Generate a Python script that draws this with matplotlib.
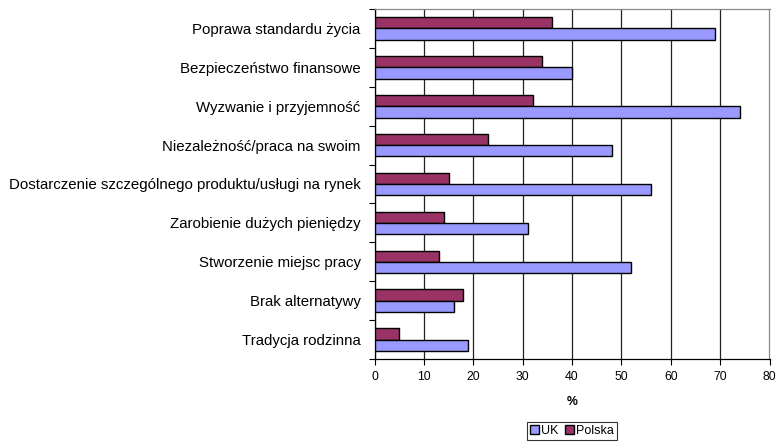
import matplotlib
matplotlib.use("Agg")
import matplotlib.pyplot as plt
import numpy as np
from matplotlib.patches import Patch

categories = [
    "Poprawa standardu życia",
    "Bezpieczeństwo finansowe",
    "Wyzwanie i przyjemność",
    "Niezależność/praca na swoim",
    "Dostarczenie szczególnego produktu/usługi na rynek",
    "Zarobienie dużych pieniędzy",
    "Stworzenie miejsc pracy",
    "Brak alternatywy",
    "Tradycja rodzinna",
]
uk = [69, 40, 74, 48, 56, 31, 52, 16, 19]
polska = [36, 34, 32, 23, 15, 14, 13, 18, 5]
x_ticks = [0, 10, 20, 30, 40, 50, 60, 70, 80]

plt.rcParams['font.family'] = ['Liberation Sans', 'DejaVu Sans']

c_uk = "#9999FF"
c_pl = "#993366"

fig = plt.figure(figsize=(7.77, 4.42), dpi=100)
ax = fig.add_axes([374.5/777, 1-359/442, 395/777, 350/442])

y = np.arange(len(categories))
h = 0.29
ax.barh(y - h/2, polska, height=h, color=c_pl, edgecolor="black", linewidth=1.0, zorder=3)
ax.barh(y + h/2, uk, height=h, color=c_uk, edgecolor="black", linewidth=1.0, zorder=3)

ax.set_xlim(0, 80)
ax.set_ylim(len(categories) - 0.5, -0.5)
ax.set_xticks(x_ticks)
ax.set_xticklabels([str(t) for t in x_ticks], fontsize=8.8)
ax.tick_params(axis='x', length=4, width=0.8, color="black", pad=5)
ax.set_yticks(y)
ax.set_yticklabels(categories, fontsize=10.8)
ax.tick_params(axis='y', which='major', length=0, pad=10)
ax.set_yticks(np.arange(-0.5, len(categories) + 0.5, 1), minor=True)
ax.tick_params(axis='y', which='minor', length=4, width=0.8, color="black")

ax.xaxis.grid(True, color="#222222", linewidth=0.9, zorder=0)
ax.set_axisbelow(True)
for s in ['top', 'right']:
    ax.spines[s].set_color("#888888")
    ax.spines[s].set_linewidth(0.9)
for s in ['left', 'bottom']:
    ax.spines[s].set_color("black")
    ax.spines[s].set_linewidth(0.9)

ax.set_xlabel("%", fontsize=8.8, fontweight='bold', labelpad=9)

handles = [Patch(facecolor=c_uk, edgecolor="black", linewidth=1.0, label="UK"),
           Patch(facecolor=c_pl, edgecolor="black", linewidth=1.0, label="Polska")]
leg = fig.legend(handles=handles, loc="center", bbox_to_anchor=(572/777, 1-431/442),
                 ncol=2, fontsize=9, frameon=True, fancybox=False,
                 handlelength=0.7, handleheight=0.7, handletextpad=0.2,
                 columnspacing=0.5, borderpad=0.25, borderaxespad=0)
leg.get_frame().set_edgecolor("black")
leg.get_frame().set_linewidth(0.8)

fig.savefig("out.png", dpi=100)
